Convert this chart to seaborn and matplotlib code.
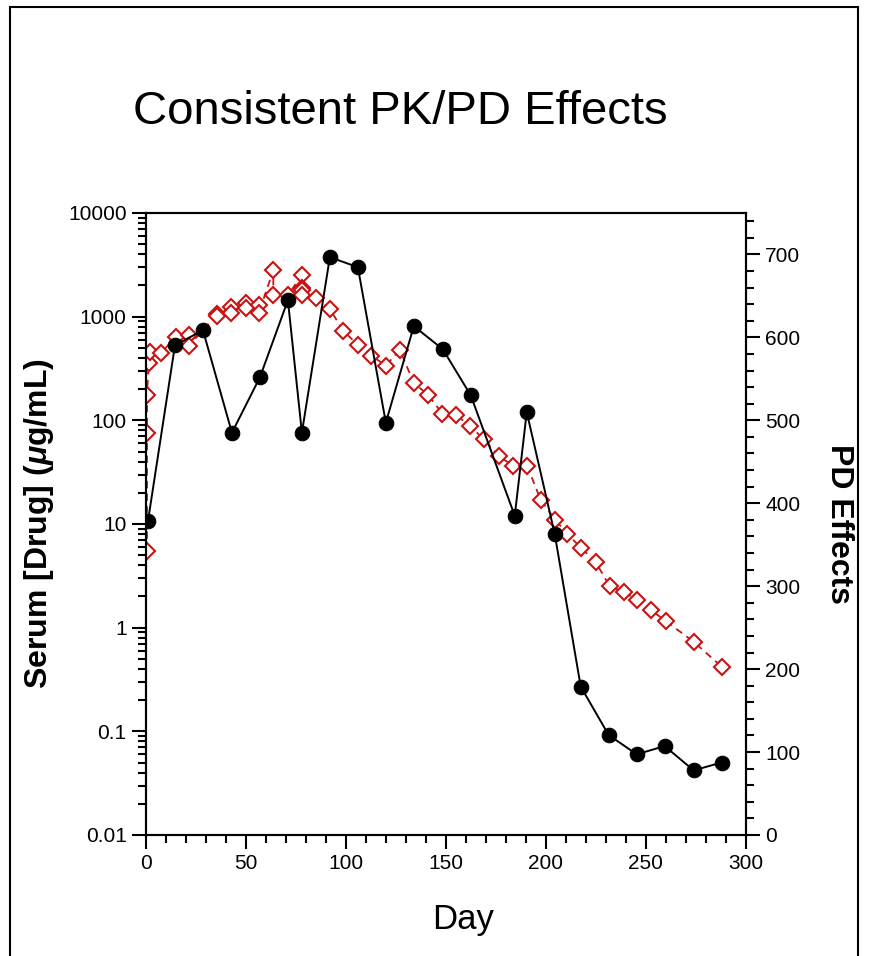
import numpy as np
import pandas as pd
import matplotlib
matplotlib.use('Agg')
import matplotlib.pyplot as plt
import seaborn as sns
from matplotlib.ticker import FixedLocator, NullFormatter, MultipleLocator
from matplotlib.patches import Rectangle

# Serum drug concentration (ug/mL), log scale
pk_day = [1, 14.5, 28.5, 43, 57, 71, 78, 92, 106, 120, 134, 148.5, 162.5,
          184.5, 190.5, 204.5, 217.5, 231.5, 245.5, 259.5, 274, 288]
pk_conc = [10.7, 530, 740, 76, 260, 1440, 76, 3750, 3000, 95, 810, 485, 174,
           12, 120, 8.0, 0.27, 0.092, 0.060, 0.072, 0.042, 0.050]

# PD effects (right axis)
pd_day = [0.5, 0.5, 0.5, 1.3, 2, 7.3, 14.8, 21.5, 21.5, 35.7, 35.7, 42.5, 42.5,
          49.8, 49.8, 56.5, 56.5, 63.7, 63.7, 71, 78, 78, 78, 78, 85.3,
          92, 98.7, 106, 112.8, 120, 127, 134, 141, 148.3, 155.3, 162.3, 169,
          176.5, 183.7, 190.7, 197.5, 204.8, 210.8, 217.8, 225, 232, 239,
          245.8, 252.8, 260, 274, 288]
pd_eff = [342, 485, 531, 569, 582, 581, 600, 603, 590, 628, 626, 637, 630,
          641, 636, 639, 630, 681, 651, 651, 675, 660, 657, 651, 647,
          634, 608, 591, 578, 566, 585, 545, 531, 508, 506, 493, 477,
          457, 445, 445, 404, 380, 363, 346, 329, 300, 293,
          283, 271, 258, 233, 203]

pk = pd.DataFrame({'day': pk_day, 'conc': pk_conc})
pdf = pd.DataFrame({'day': pd_day, 'effect': pd_eff})

sns.set_style('ticks')
plt.rcParams['font.family'] = ['Liberation Sans', 'DejaVu Sans']
plt.rcParams['mathtext.fontset'] = 'custom'
plt.rcParams['mathtext.it'] = 'Liberation Sans:italic:bold'
plt.rcParams['mathtext.rm'] = 'Liberation Sans:bold'
for k in ['text.color', 'axes.labelcolor', 'xtick.color', 'ytick.color', 'axes.edgecolor']:
    plt.rcParams[k] = 'black'

fig = plt.figure(figsize=(8.69, 9.56), dpi=100)
ax = fig.add_axes([0.168, 0.1266, 0.690, 0.6506])
ax2 = ax.twinx()
ax.set_zorder(ax2.get_zorder() + 1)
ax.patch.set_visible(False)

red = '#cc1111'
sns.lineplot(data=pdf, x='day', y='effect', ax=ax2, estimator=None, sort=False,
             color=red, lw=1.3, linestyle=(0, (4, 3)), marker='D', markersize=8,
             markerfacecolor='white', markeredgecolor=red, markeredgewidth=1.5)
sns.lineplot(data=pk, x='day', y='conc', ax=ax, estimator=None, sort=False,
             color='black', lw=1.4, marker='o', markersize=10.5,
             markerfacecolor='black', markeredgecolor='black')

ax.set_yscale('log')
ax.set_ylim(0.01, 10000)
ax.set_xlim(0, 300)
ax2.set_ylim(0, 750)

ax.xaxis.set_major_locator(MultipleLocator(50))
ax.xaxis.set_minor_locator(MultipleLocator(10))
ax.yaxis.set_major_locator(FixedLocator([0.01, 0.1, 1, 10, 100, 1000, 10000]))
minors = [m * 10.0 ** e for e in range(-2, 4) for m in range(2, 10)]
ax.yaxis.set_minor_locator(FixedLocator(minors))
ax.yaxis.set_minor_formatter(NullFormatter())
ax.set_yticklabels(['0.01', '0.1', '1', '10', '100', '1000', '10000'])
ax2.yaxis.set_major_locator(MultipleLocator(100))
ax2.yaxis.set_minor_locator(MultipleLocator(20))

for a in (ax, ax2):
    a.tick_params(which='major', length=10, width=1.5, labelsize=15, pad=4, direction='out')
    a.tick_params(which='minor', length=6, width=1.5, direction='out')
    for s in a.spines.values():
        s.set_visible(True)
        s.set_linewidth(1.5)
ax.tick_params(axis='both', which='both', top=False, right=False)
ax2.tick_params(axis='x', which='both', top=False)

ax.set_xlabel('Day', fontsize=25)
ax.xaxis.set_label_coords(0.528, -0.11)
ax.set_ylabel(r'Serum [Drug] ($\mu$g/mL)', fontsize=23, fontweight='bold')
ax.yaxis.set_label_coords(-0.15, 0.5)
ax2.set_ylabel('PD Effects', fontsize=23, fontweight='bold', rotation=270, va='bottom')
ax2.yaxis.set_label_coords(1.13, 0.5)

fig.text(0.153, 0.883, 'Consistent PK/PD Effects', fontsize=34, va='center', ha='left')

# slide frame
fig.patches.append(Rectangle((10 / 869, -0.01), 848 / 869, 1 - 7 / 956 + 0.01,
                             transform=fig.transFigure, fill=False,
                             edgecolor='black', lw=1.5))

fig.savefig('out.png', dpi=100)
